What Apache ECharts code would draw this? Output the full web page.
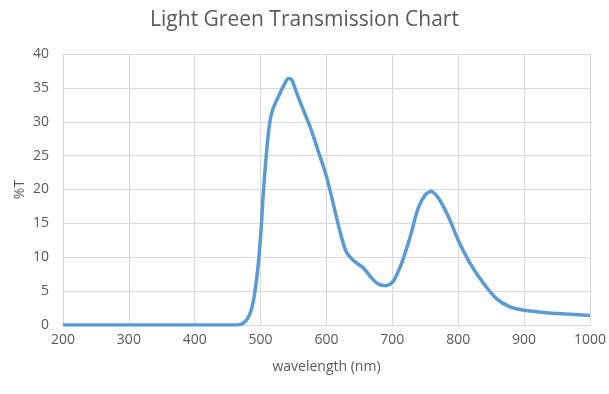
<!DOCTYPE html>
<html><head><meta charset="utf-8">
<script src="https://cdn.jsdelivr.net/npm/echarts@6/dist/echarts.min.js"></script>
<style>html,body{margin:0;padding:0;background:#fff}#c{width:609px;height:394px}</style>
</head><body><div id="c"></div>
<script>
const wavelengths = [200, 300, 400, 460, 468, 474, 480, 486, 491, 496, 501, 504, 508, 513, 518, 527, 537, 542, 547, 555, 565, 575, 587, 600, 610, 620, 630, 640, 656, 668, 678, 689, 701, 714, 727, 739, 750, 759, 770, 785, 800, 818, 838, 858, 878, 898, 934, 969, 1000];
const transmission = [0, 0, 0, 0, 0.05, 0.3, 0.9, 2.3, 4.7, 8.6, 14.5, 19.4, 24.4, 29.3, 31.7, 33.7, 35.7, 36.4, 36.2, 34.2, 31.7, 29.3, 25.8, 21.9, 18, 14, 10.8, 9.6, 8.4, 7, 6.1, 5.8, 6.4, 9.1, 13, 17.2, 19.2, 19.7, 18.7, 16, 12.5, 9.1, 6.2, 3.9, 2.7, 2.2, 1.8, 1.6, 1.4];
const titleText = "Light Green Transmission Chart";
const xName = "wavelength (nm)";
const yName = "%T";

const chart = echarts.init(document.getElementById('c'), null, {renderer: 'canvas'});
const font = "'Open Sans', 'Noto Sans', sans-serif";
chart.setOption({
  animation: false,
  title: {text: titleText, left: 'center', top: 5,
    textStyle: {fontFamily: font, fontSize: 21, fontWeight: 'normal', color: '#595959'}},
  grid: {left: 63, right: 19, top: 54, bottom: 69},
  xAxis: {type: 'value', min: 200, max: 1000, interval: 100,
    name: xName, nameLocation: 'middle', nameGap: 35,
    nameTextStyle: {fontFamily: font, fontSize: 14, color: '#595959'},
    axisLine: {show: true, lineStyle: {color: '#d9d9d9'}},
    axisTick: {show: false},
    axisLabel: {fontFamily: font, fontSize: 14, color: '#595959', margin: 8, formatter: v => String(v)},
    splitLine: {show: true, lineStyle: {color: '#d9d9d9', width: 1}}},
  yAxis: {type: 'value', min: 0, max: 40, interval: 5,
    name: yName, nameLocation: 'middle', nameGap: 36, nameRotate: 90, nameMoveOverlap: false,
    nameTextStyle: {fontFamily: font, fontSize: 14, color: '#595959'},
    axisLine: {show: false}, axisTick: {show: false},
    axisLabel: {fontFamily: font, fontSize: 14, color: '#595959', margin: 14},
    splitLine: {show: true, lineStyle: {color: '#d9d9d9', width: 1}}},
  series: [{type: 'line', data: wavelengths.map((w, i) => [w, transmission[i]]),
    showSymbol: false, smooth: 0.3,
    lineStyle: {color: '#5B9BD5', width: 3.5}, itemStyle: {color: '#5B9BD5'}}]
});
</script></body></html>
